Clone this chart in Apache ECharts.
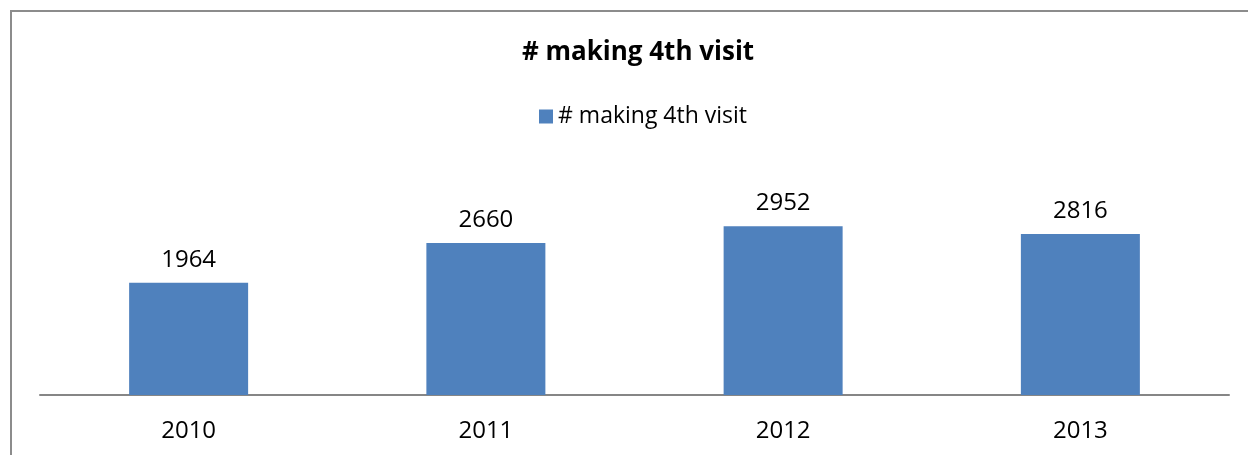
<!DOCTYPE html>
<html>
<head>
<meta charset="utf-8">
<script src="https://cdn.jsdelivr.net/npm/echarts@6/dist/echarts.min.js"></script>
<style>
  html, body { margin: 0; padding: 0; background: #fff; }
  #chart { width: 1248px; height: 455px; }
</style>
</head>
<body>
<div id="chart"></div>
<script>
// data
var years = ['2010', '2011', '2012', '2013'];
var visits = [1964, 2660, 2952, 2816];
var seriesName = '# making 4th visit';

var chart = echarts.init(document.getElementById('chart'));

var option = {
  backgroundColor: '#fff',
  animation: false,
  textStyle: { fontFamily: 'Open Sans' },
  // chart area frame (only left and top edges are visible)
  graphic: [{
    type: 'rect',
    shape: { x: 11, y: 11, width: 1400, height: 600 },
    style: { fill: 'none', stroke: '#8c8c8c', lineWidth: 2 },
    silent: true
  }],
  title: {
    text: seriesName,
    left: 633,
    textAlign: 'center',
    top: 35,
    textStyle: { fontSize: 26, fontWeight: 'bold', color: '#000', fontFamily: 'Open Sans' }
  },
  legend: {
    data: [seriesName],
    top: 100,
    left: 534,
    icon: 'rect',
    itemWidth: 14,
    itemHeight: 14,
    itemGap: 8,
    textStyle: { fontSize: 23, color: '#000', fontFamily: 'Open Sans' }
  },
  grid: {
    left: 40,
    right: 19,
    top: 195,
    bottom: 60,
    containLabel: false
  },
  xAxis: {
    type: 'category',
    data: years,
    axisTick: { show: false },
    axisLine: { lineStyle: { color: '#868686', width: 2 } },
    axisLabel: { fontSize: 24, color: '#000', margin: 24, fontFamily: 'Open Sans' }
  },
  yAxis: {
    type: 'value',
    min: 0,
    max: 3500,
    show: false,
    splitLine: { show: false }
  },
  series: [{
    name: seriesName,
    type: 'bar',
    data: visits,
    barWidth: 119,
    itemStyle: { color: '#4F81BD' },
    label: {
      show: true,
      position: 'top',
      distance: 11,
      fontSize: 24,
      color: '#000',
      fontFamily: 'Open Sans'
    }
  }]
};

chart.setOption(option);
</script>
</body>
</html>
